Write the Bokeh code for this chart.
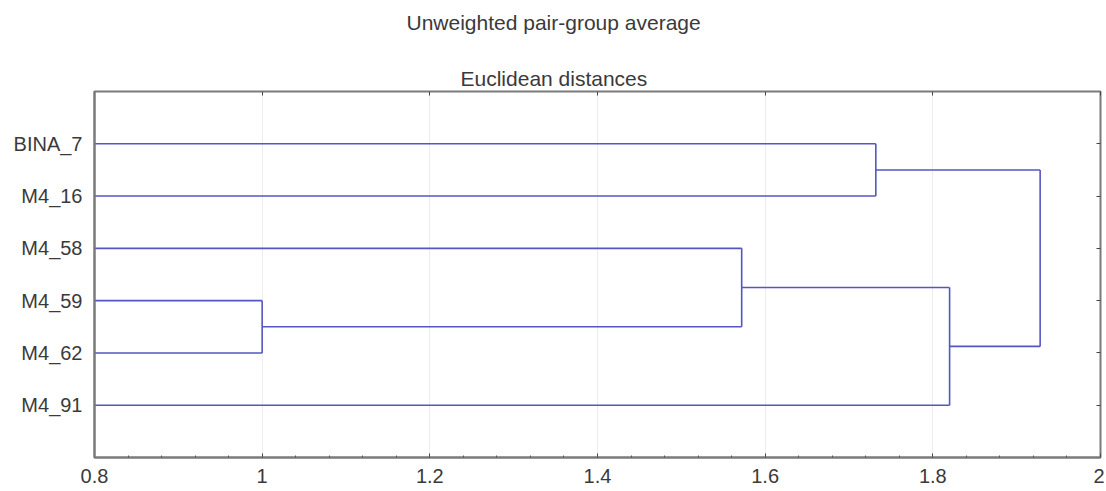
from bokeh.plotting import figure
from bokeh.models import (Range1d, LinearAxis, FixedTicker, SingleIntervalTicker,
                          Title, ColumnDataSource, CustomJSTickFormatter)
from bokeh.embed import file_html
from bokeh.resources import INLINE

# ---- data ----
title_line1 = "Unweighted pair-group average"
title_line2 = "Euclidean distances"
leaves = ["BINA_7", "M4_16", "M4_58", "M4_59", "M4_62", "M4_91"]
# merges: (name, child_a, child_b, linkage distance)
merge_names = ["c1", "c2", "c3", "c4", "c5"]
merge_a = ["M4_59", "c1", "c2", "BINA_7", "c4"]
merge_b = ["M4_62", "M4_58", "M4_91", "M4_16", "c3"]
merge_dist = [1.0, 1.572, 1.820, 1.732, 1.928]
x_ticks = [0.8, 1.0, 1.2, 1.4, 1.6, 1.8, 2.0]

X0 = 0.8
LINE = "#5656c2"
FONT = "Liberation Sans"

# node positions
ypos = {name: i + 1 for i, name in enumerate(leaves)}
xpos = {name: X0 for name in leaves}
x0s, y0s, x1s, y1s = [], [], [], []
for n, a, b, d in zip(merge_names, merge_a, merge_b, merge_dist):
    ya, yb = ypos[a], ypos[b]
    x0s += [xpos[a], xpos[b], d]
    y0s += [ya, yb, ya]
    x1s += [d, d, d]
    y1s += [ya, yb, yb]
    ypos[n] = (ya + yb) / 2
    xpos[n] = d

src = ColumnDataSource(dict(x0=x0s, y0=y0s, x1=x1s, y1=y1s))

p = figure(width=1104, height=491, output_backend="svg", toolbar_location=None,
           x_range=Range1d(x_ticks[0], x_ticks[-1]), y_range=Range1d(len(leaves) + 1, 0),
           x_axis_location="below", y_axis_location="left",
           min_border_left=94, min_border_right=4, min_border_top=90,
           min_border_bottom=34)
p.title.visible = False
p.background_fill_color = "white"
p.border_fill_color = "white"
p.outline_line_color = "#7a7a7a"
p.outline_line_width = 2

p.segment("x0", "y0", "x1", "y1", source=src, line_color=LINE, line_width=1.6)

blank = CustomJSTickFormatter(code="return '';")

# bottom axis
xa = p.xaxis[0]
xa.ticker = SingleIntervalTicker(interval=0.2, num_minor_ticks=5)
xa.formatter = CustomJSTickFormatter(code="return Number(tick.toFixed(1)).toString();")
xa.major_tick_in = 4
xa.major_tick_out = 0
xa.minor_tick_in = 2
xa.minor_tick_out = 0
xa.major_tick_line_color = "#444444"
xa.minor_tick_line_color = "#555555"
xa.axis_line_color = "#7a7a7a"
xa.axis_line_width = 2
xa.major_label_text_font = FONT
xa.major_label_text_font_size = "20px"
xa.major_label_text_color = "#3a3a3a"
xa.major_label_standoff = 11

# left axis
ya_ = p.yaxis[0]
ya_.ticker = FixedTicker(ticks=list(range(1, len(leaves) + 1)))
ya_.major_label_overrides = {i + 1: name for i, name in enumerate(leaves)}
ya_.major_tick_in = 0
ya_.major_tick_out = 0
ya_.minor_tick_line_color = None
ya_.axis_line_color = "#7a7a7a"
ya_.axis_line_width = 2
ya_.major_label_text_font = FONT
ya_.major_label_text_font_size = "20px"
ya_.major_label_text_color = "#3a3a3a"
ya_.major_label_standoff = 12

# top axis (ticks only)
top = LinearAxis(ticker=SingleIntervalTicker(interval=0.2, num_minor_ticks=0),
                 formatter=blank,
                 major_tick_in=4, major_tick_out=0, minor_tick_line_color=None,
                 major_tick_line_color="#444444", axis_line_color=None,
                 major_label_standoff=0)
p.add_layout(top, "above")

# right axis (ticks at leaves)
right = LinearAxis(ticker=FixedTicker(ticks=list(range(1, len(leaves) + 1))),
                   formatter=blank,
                   major_tick_in=4, major_tick_out=0, minor_tick_line_color=None,
                   major_tick_line_color="#444444", axis_line_color=None,
                   major_label_standoff=0)
p.add_layout(right, "right")

p.xgrid.ticker = SingleIntervalTicker(interval=0.2)
p.xgrid.grid_line_color = "#ededed"
p.ygrid.grid_line_color = None

t2 = Title(text=title_line2, align="left", offset=366, text_font=FONT,
           text_font_size="21px", text_font_style="normal",
           text_color="#3a3a3a", standoff=0, padding=(0, 0, 25, 0),
           vertical_align="top")
t1 = Title(text=title_line1, align="left", offset=312, text_font=FONT,
           text_font_size="21px", text_font_style="normal",
           text_color="#3a3a3a", standoff=16)
p.add_layout(t2, "above")
p.add_layout(t1, "above")

open("out.html", "w").write(file_html(p, INLINE))
